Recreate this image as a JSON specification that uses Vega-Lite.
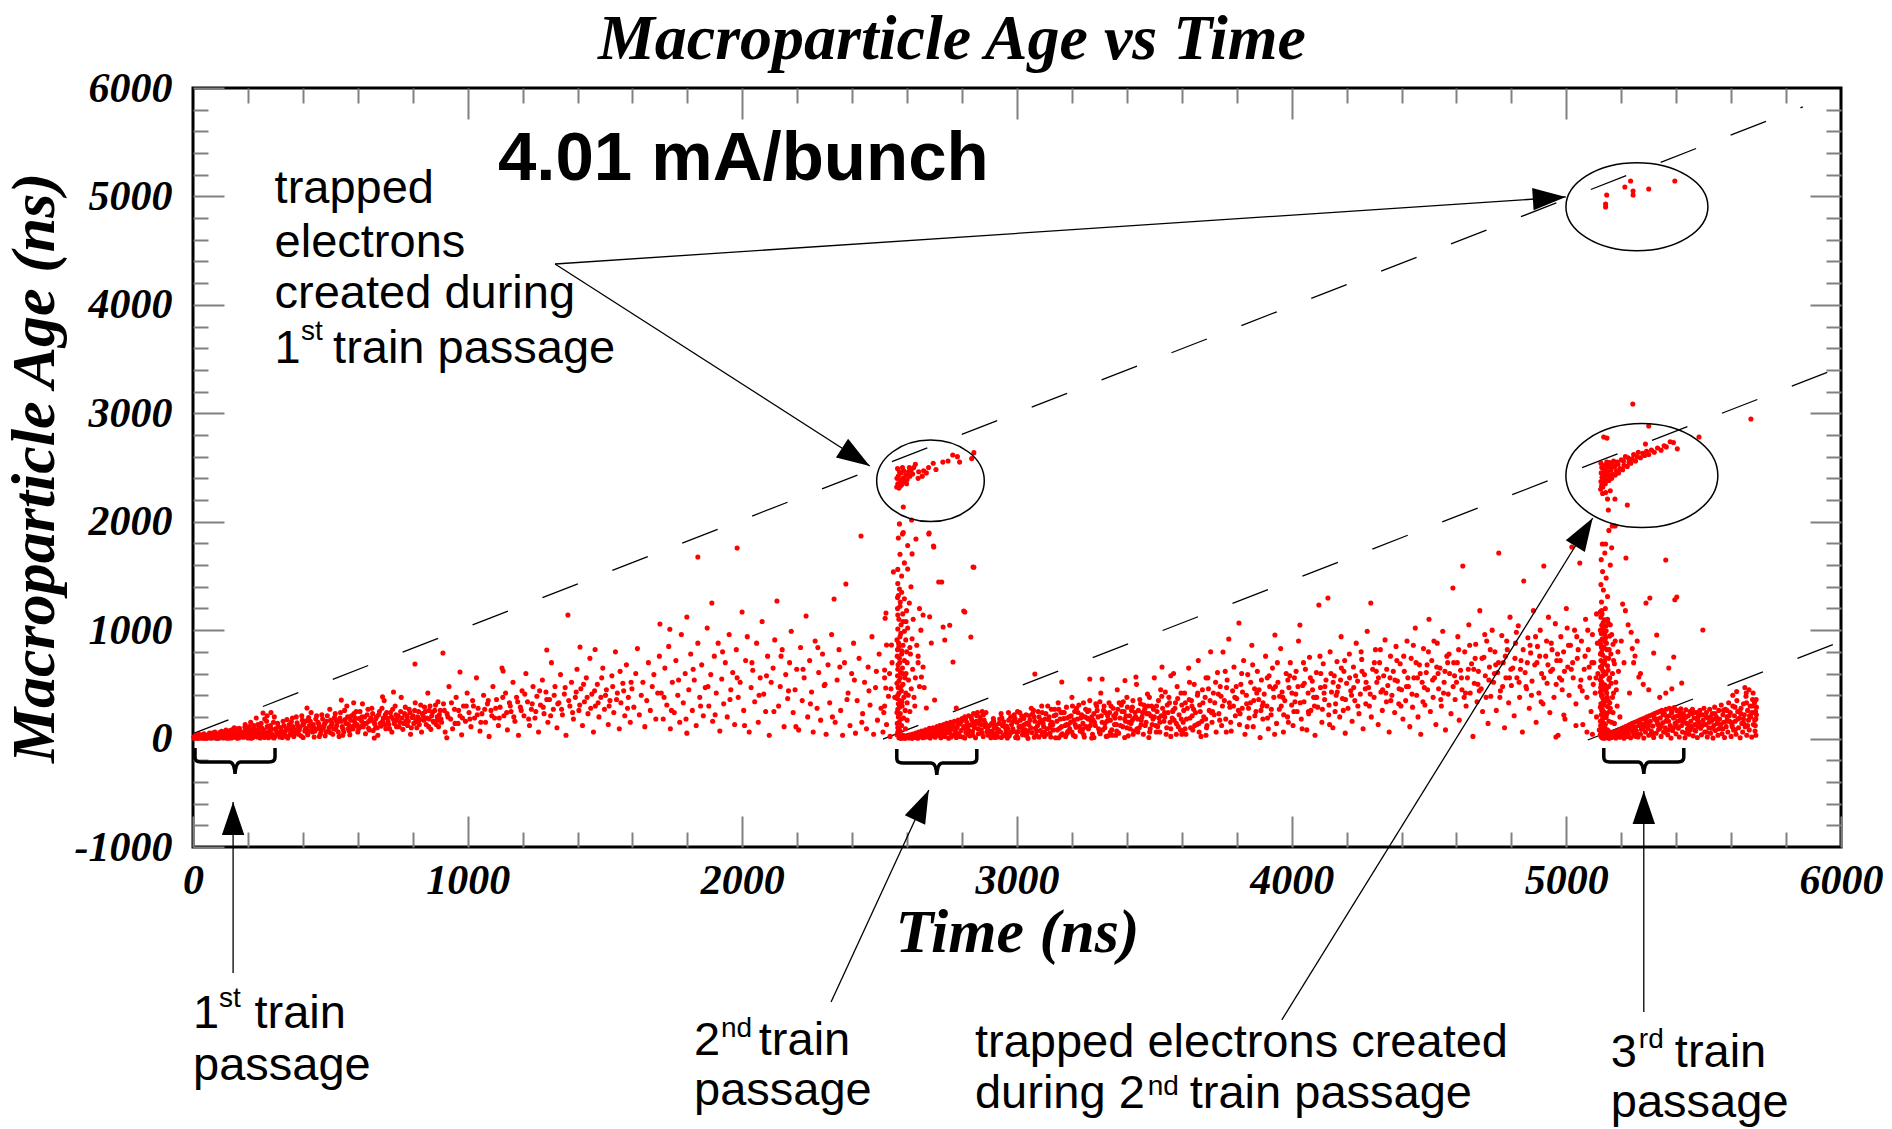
{
"$schema":"https://vega.github.io/schema/vega-lite/v6.json",
"width":1648,"height":759,"autosize":"none",
"padding":{"left":193,"top":88,"right":51,"bottom":282},
"background":"white",
"config":{"view":{"stroke":"#000","strokeWidth":3},
"axis":{"grid":false,"domain":false,"tickColor":"#808080","tickWidth":2,"labelFont":"Liberation Serif","labelFontSize":42,"labelFontWeight":"bold","labelFontStyle":"italic","labelColor":"#000","titleFont":"Liberation Serif","titleFontSize":62,"titleFontWeight":"bold","titleFontStyle":"italic","titleColor":"#000"}},
"resolve":{"axis":{"x":"independent","y":"independent"}},
"encoding":{
"x":{"field":"t","type":"quantitative","scale":{"domain":[0,6000],"nice":false,"zero":false},"axis":null},
"y":{"field":"a","type":"quantitative","scale":{"domain":[-1000,6000],"nice":false,"zero":false},"axis":null}},
"layer":[
{"data":{"values":[{"t":0,"a":45,"t2":5861,"a2":5825},{"t":2512,"a":-5,"t2":6000,"a2":3427},{"t":5078,"a":-13,"t2":6000,"a2":896}]},
"mark":{"type":"rule","color":"#000","strokeWidth":1.3,"strokeDash":[38,37]},
"encoding":{
"x":{"field":"t","type":"quantitative","scale":{"domain":[0,6000],"nice":false,"zero":false},"axis":{"orient":"bottom","values":[200,400,600,800,1200,1400,1600,1800,2200,2400,2600,2800,3200,3400,3600,3800,4200,4400,4600,4800,5200,5400,5600,5800],"tickSize":-15,"labels":false,"title":null}},
"y":{"field":"a","type":"quantitative","scale":{"domain":[-1000,6000],"nice":false,"zero":false},"axis":{"orient":"left","values":[-800,-600,-400,-200,200,400,600,800,1200,1400,1600,1800,2200,2400,2600,2800,3200,3400,3600,3800,4200,4400,4600,4800,5200,5400,5600,5800],"tickSize":-15,"labels":false,"title":null}},
"x2":{"field":"t2"},"y2":{"field":"a2"}}},
{"data":{"values":[
{"t":5,"a":3},{"t":12,"a":10},{"t":18,"a":2},{"t":25,"a":18},{"t":30,"a":6},{"t":36,"a":25},{"t":42,"a":12},{"t":48,"a":2},{"t":53,"a":30},{"t":58,"a":15},{"t":63,"a":40},{"t":68,"a":5},{"t":72,"a":22},{"t":78,"a":48},{"t":83,"a":10},{"t":88,"a":33},{"t":92,"a":3},{"t":97,"a":55},{"t":102,"a":20},{"t":107,"a":40},{"t":112,"a":8},{"t":117,"a":62},{"t":121,"a":28},{"t":126,"a":14},{"t":131,"a":45},{"t":135,"a":75},{"t":140,"a":5},{"t":144,"a":33},{"t":149,"a":58},{"t":153,"a":18},{"t":158,"a":90},{"t":162,"a":40},{"t":167,"a":8},{"t":171,"a":70},{"t":176,"a":25},{"t":180,"a":50},{"t":185,"a":12},{"t":189,"a":105},{"t":194,"a":38},{"t":198,"a":65},{"t":203,"a":20},{"t":207,"a":85},{"t":212,"a":4},{"t":216,"a":48},{"t":221,"a":120},{"t":225,"a":30},{"t":230,"a":70},{"t":234,"a":15},{"t":239,"a":95},{"t":243,"a":45},{"t":248,"a":140},{"t":252,"a":22},{"t":257,"a":60},{"t":261,"a":180},{"t":266,"a":35},{"t":270,"a":110},{"t":275,"a":8},{"t":279,"a":75},{"t":284,"a":240},{"t":288,"a":40},{"t":293,"a":150},{"t":297,"a":20},{"t":300,"a":90},{"t":255,"a":236},{"t":230,"a":190},{"t":190,"a":130},{"t":150,"a":100},{"t":120,"a":78},{"t":80,"a":60},{"t":60,"a":50},{"t":210,"a":150},{"t":270,"a":210},{"t":10,"a":30},{"t":20,"a":40},{"t":40,"a":45},{"t":55,"a":8},{"t":75,"a":35},{"t":95,"a":28},{"t":110,"a":50},{"t":130,"a":5},{"t":145,"a":60},{"t":160,"a":30},{"t":175,"a":55},{"t":200,"a":5},{"t":220,"a":62},{"t":240,"a":32},{"t":260,"a":10},{"t":280,"a":55},{"t":295,"a":5},
{"t":3,"a":15},{"t":8,"a":5},{"t":15,"a":22},{"t":22,"a":8},{"t":28,"a":35},{"t":33,"a":14},{"t":39,"a":3},{"t":45,"a":28},{"t":51,"a":18},{"t":57,"a":38},{"t":62,"a":9},{"t":66,"a":27},{"t":71,"a":52},{"t":77,"a":16},{"t":82,"a":40},{"t":86,"a":4},{"t":91,"a":24},{"t":99,"a":12},{"t":104,"a":66},{"t":109,"a":30},{"t":114,"a":18},{"t":119,"a":42},{"t":124,"a":3},{"t":128,"a":58},{"t":133,"a":22},{"t":138,"a":36},{"t":142,"a":80},{"t":147,"a":12},{"t":152,"a":46},{"t":156,"a":65},{"t":161,"a":3},{"t":165,"a":24},{"t":169,"a":95},{"t":173,"a":40},{"t":178,"a":14},{"t":183,"a":60},{"t":187,"a":30},{"t":192,"a":80},{"t":196,"a":18},{"t":201,"a":45},{"t":205,"a":110},{"t":209,"a":32},{"t":214,"a":70},{"t":218,"a":10},{"t":223,"a":88},{"t":227,"a":50},{"t":232,"a":28},{"t":236,"a":130},{"t":241,"a":65},{"t":245,"a":6},{"t":250,"a":100},{"t":254,"a":40},{"t":259,"a":78},{"t":263,"a":20},{"t":268,"a":160},{"t":272,"a":55},{"t":277,"a":30},{"t":282,"a":120},{"t":286,"a":85},{"t":291,"a":12},{"t":296,"a":200},
{"t":305,"a":40},{"t":310,"a":110},{"t":316,"a":15},{"t":322,"a":70},{"t":328,"a":160},{"t":333,"a":30},{"t":339,"a":95},{"t":345,"a":5},{"t":350,"a":130},{"t":356,"a":55},{"t":362,"a":190},{"t":367,"a":20},{"t":373,"a":80},{"t":379,"a":145},{"t":384,"a":40},{"t":390,"a":105},{"t":396,"a":210},{"t":401,"a":10},{"t":407,"a":70},{"t":413,"a":165},{"t":418,"a":35},{"t":424,"a":120},{"t":430,"a":240},{"t":435,"a":60},{"t":441,"a":15},{"t":447,"a":180},{"t":452,"a":90},{"t":458,"a":135},{"t":464,"a":45},{"t":469,"a":220},{"t":475,"a":100},{"t":481,"a":25},{"t":486,"a":160},{"t":492,"a":70},{"t":498,"a":270},{"t":503,"a":120},{"t":509,"a":40},{"t":515,"a":195},{"t":520,"a":85},{"t":526,"a":150},{"t":532,"a":20},{"t":537,"a":240},{"t":543,"a":110},{"t":549,"a":60},{"t":554,"a":175},{"t":560,"a":300},{"t":566,"a":130},{"t":571,"a":35},{"t":577,"a":210},{"t":583,"a":90},{"t":588,"a":155},{"t":594,"a":250},{"t":600,"a":60},{"t":605,"a":185},{"t":611,"a":110},{"t":617,"a":320},{"t":622,"a":140},{"t":628,"a":45},{"t":634,"a":220},{"t":639,"a":95},{"t":645,"a":170},{"t":651,"a":280},{"t":656,"a":75},{"t":662,"a":135},{"t":668,"a":200},{"t":673,"a":30},{"t":679,"a":250},{"t":685,"a":115},{"t":690,"a":160},{"t":696,"a":350},{"t":702,"a":90},{"t":707,"a":190},{"t":713,"a":130},{"t":719,"a":240},{"t":724,"a":60},{"t":730,"a":175},{"t":736,"a":300},{"t":741,"a":110},{"t":747,"a":210},{"t":753,"a":150},{"t":758,"a":380},{"t":764,"a":85},{"t":770,"a":230},{"t":775,"a":160},{"t":781,"a":120},{"t":787,"a":270},{"t":792,"a":40},{"t":798,"a":195},{"t":804,"a":140},{"t":809,"a":330},{"t":815,"a":100},{"t":821,"a":250},{"t":826,"a":175},{"t":832,"a":60},{"t":838,"a":210},{"t":843,"a":290},{"t":849,"a":130},{"t":855,"a":420},{"t":860,"a":180},{"t":866,"a":85},{"t":872,"a":240},{"t":877,"a":150},{"t":883,"a":310},{"t":889,"a":200},{"t":894,"a":110},{"t":900,"a":260},{"t":415,"a":282},{"t":808,"a":688},{"t":910,"a":789},{"t":730,"a":430},{"t":690,"a":385},{"t":660,"a":5},{"t":924,"a":8},{"t":585,"a":330},{"t":540,"a":355},
{"t":320,"a":50},{"t":340,"a":20},{"t":360,"a":90},{"t":380,"a":60},{"t":400,"a":130},{"t":420,"a":75},{"t":440,"a":100},{"t":460,"a":20},{"t":480,"a":140},{"t":500,"a":55},{"t":520,"a":170},{"t":545,"a":30},{"t":565,"a":90},{"t":590,"a":120},{"t":615,"a":200},{"t":640,"a":160},{"t":665,"a":100},{"t":700,"a":220},{"t":740,"a":170},{"t":780,"a":200},{"t":820,"a":150},{"t":860,"a":260},{"t":890,"a":170},
{"t":302,"a":75},{"t":308,"a":140},{"t":313,"a":55},{"t":319,"a":100},{"t":325,"a":10},{"t":331,"a":120},{"t":336,"a":65},{"t":342,"a":175},{"t":348,"a":85},{"t":353,"a":35},{"t":358,"a":155},{"t":364,"a":110},{"t":370,"a":50},{"t":376,"a":200},{"t":381,"a":120},{"t":387,"a":80},{"t":393,"a":25},{"t":398,"a":170},{"t":404,"a":140},{"t":410,"a":95},{"t":416,"a":50},{"t":421,"a":195},{"t":427,"a":160},{"t":433,"a":100},{"t":438,"a":130},{"t":444,"a":70},{"t":450,"a":210},{"t":455,"a":150},{"t":461,"a":110},{"t":467,"a":75},{"t":472,"a":180},{"t":478,"a":130},{"t":484,"a":60},{"t":489,"a":210},{"t":495,"a":100},{"t":501,"a":170},{"t":506,"a":140},{"t":512,"a":90},{"t":518,"a":230},{"t":523,"a":120},{"t":529,"a":60},{"t":535,"a":190},{"t":540,"a":160},{"t":546,"a":90},{"t":552,"a":260},{"t":557,"a":140},{"t":563,"a":200},{"t":569,"a":70},{"t":574,"a":170},{"t":580,"a":110},{"t":586,"a":230},{"t":591,"a":190},{"t":597,"a":130},{"t":603,"a":90},{"t":608,"a":250},{"t":614,"a":160},{"t":620,"a":110},{"t":625,"a":200},{"t":631,"a":140},{"t":637,"a":270},{"t":642,"a":80},{"t":648,"a":190},
{"t":654,"a":230},{"t":659,"a":150},{"t":665,"a":180},{"t":671,"a":100},{"t":676,"a":220},{"t":682,"a":140},{"t":688,"a":280},{"t":693,"a":190},{"t":699,"a":130},{"t":705,"a":240},{"t":710,"a":160},{"t":716,"a":90},{"t":722,"a":200},{"t":727,"a":270},{"t":733,"a":140},{"t":739,"a":220},{"t":744,"a":180},{"t":750,"a":110},{"t":756,"a":250},{"t":761,"a":190},{"t":767,"a":140},{"t":773,"a":290},{"t":778,"a":210},{"t":784,"a":160},{"t":790,"a":240},{"t":795,"a":100},{"t":801,"a":210},{"t":807,"a":260},{"t":812,"a":170},{"t":818,"a":200},{"t":824,"a":130},{"t":829,"a":310},{"t":835,"a":230},{"t":841,"a":170},{"t":846,"a":250},{"t":852,"a":190},{"t":858,"a":110},{"t":863,"a":300},{"t":869,"a":210},{"t":875,"a":160},{"t":880,"a":260},{"t":886,"a":130},{"t":892,"a":340},{"t":897,"a":220},{"t":903,"a":180},{"t":915,"a":260},{"t":928,"a":200},{"t":941,"a":330},{"t":954,"a":140},{"t":967,"a":260},{"t":981,"a":190},{"t":995,"a":300},
{"t":1008,"a":180},{"t":1021,"a":300},{"t":1035,"a":220},{"t":1048,"a":150},{"t":1062,"a":270},{"t":1075,"a":350},{"t":1088,"a":210},{"t":1102,"a":280},{"t":1115,"a":190},{"t":1128,"a":380},{"t":1142,"a":240},{"t":1155,"a":300},{"t":1168,"a":200},{"t":1182,"a":340},{"t":1195,"a":260},{"t":1208,"a":410},{"t":1222,"a":180},{"t":1235,"a":320},{"t":1248,"a":250},{"t":1262,"a":440},{"t":1275,"a":290},{"t":1288,"a":360},{"t":1302,"a":210},{"t":1315,"a":400},{"t":1328,"a":320},{"t":1342,"a":270},{"t":1355,"a":470},{"t":1368,"a":350},{"t":1382,"a":240},{"t":1395,"a":430},{"t":1408,"a":310},{"t":1422,"a":500},{"t":1435,"a":380},{"t":1448,"a":280},{"t":1462,"a":440},{"t":1475,"a":330},{"t":1488,"a":560},{"t":1502,"a":400},{"t":1515,"a":300},{"t":1528,"a":480},{"t":1542,"a":360},{"t":1555,"a":620},{"t":1568,"a":440},{"t":1582,"a":280},{"t":1595,"a":520},
{"t":905,"a":150},{"t":912,"a":320},{"t":918,"a":60},{"t":925,"a":230},{"t":932,"a":480},{"t":938,"a":180},{"t":945,"a":90},{"t":952,"a":270},{"t":958,"a":380},{"t":965,"a":140},{"t":972,"a":210},{"t":978,"a":35},{"t":985,"a":300},{"t":992,"a":160},{"t":998,"a":420},{"t":1005,"a":240},{"t":1012,"a":110},{"t":1018,"a":350},{"t":1025,"a":190},{"t":1032,"a":560},{"t":1038,"a":280},{"t":1045,"a":70},{"t":1052,"a":230},{"t":1058,"a":400},{"t":1065,"a":150},{"t":1072,"a":320},{"t":1078,"a":20},{"t":1085,"a":260},{"t":1092,"a":480},{"t":1098,"a":190},{"t":1105,"a":360},{"t":1112,"a":120},{"t":1118,"a":290},{"t":1125,"a":650},{"t":1132,"a":210},{"t":1138,"a":420},{"t":1145,"a":80},{"t":1152,"a":330},{"t":1158,"a":250},{"t":1165,"a":520},{"t":1172,"a":160},{"t":1178,"a":380},{"t":1185,"a":30},{"t":1192,"a":290},{"t":1198,"a":440},{"t":1205,"a":210},{"t":1212,"a":600},{"t":1218,"a":340},{"t":1225,"a":120},{"t":1232,"a":270},{"t":1238,"a":480},{"t":1245,"a":190},{"t":1252,"a":390},{"t":1258,"a":60},{"t":1265,"a":310},{"t":1272,"a":540},{"t":1278,"a":230},{"t":1285,"a":430},{"t":1292,"a":150},{"t":1298,"a":360},{"t":1305,"a":700},{"t":1312,"a":270},{"t":1318,"a":480},{"t":1325,"a":100},{"t":1332,"a":330},{"t":1338,"a":590},{"t":1345,"a":220},{"t":1352,"a":410},{"t":1358,"a":30},{"t":1365,"a":1140},{"t":1372,"a":300},{"t":1378,"a":520},{"t":1385,"a":180},{"t":1392,"a":380},{"t":1398,"a":640},{"t":1405,"a":260},{"t":1412,"a":460},{"t":1418,"a":120},{"t":1425,"a":340},{"t":1432,"a":560},{"t":1438,"a":230},{"t":1445,"a":740},{"t":1452,"a":410},{"t":1458,"a":60},{"t":1465,"a":300},{"t":1472,"a":500},{"t":1478,"a":200},{"t":1485,"a":380},{"t":1492,"a":650},{"t":1498,"a":270},{"t":1505,"a":450},{"t":1512,"a":130},{"t":1518,"a":350},{"t":1525,"a":580},{"t":1532,"a":240},{"t":1538,"a":800},{"t":1545,"a":420},{"t":1552,"a":90},{"t":1558,"a":330},{"t":1565,"a":510},{"t":1572,"a":210},{"t":1578,"a":680},{"t":1585,"a":380},{"t":1592,"a":150},{"t":1598,"a":460},{"t":1605,"a":290},{"t":1612,"a":600},{"t":1618,"a":830},{"t":1625,"a":220},{"t":1632,"a":400},{"t":1638,"a":520},{"t":1645,"a":110},{"t":1652,"a":350},{"t":1658,"a":700},{"t":1665,"a":260},{"t":1672,"a":480},{"t":1678,"a":590},{"t":1685,"a":180},{"t":1692,"a":420},{"t":1698,"a":760},{"t":1288,"a":817},{"t":1409,"a":845},{"t":1464,"a":822},{"t":1700,"a":1057},{"t":1736,"a":1008},{"t":1798,"a":1121},{"t":1838,"a":1674},{"t":1129,"a":623},{"t":972,"a":614},
{"t":1705,"a":420},{"t":1712,"a":180},{"t":1718,"a":650},{"t":1725,"a":310},{"t":1732,"a":850},{"t":1738,"a":90},{"t":1745,"a":520},{"t":1752,"a":240},{"t":1758,"a":720},{"t":1765,"a":400},{"t":1772,"a":150},{"t":1778,"a":960},{"t":1785,"a":330},{"t":1792,"a":600},{"t":1798,"a":50},{"t":1805,"a":450},{"t":1812,"a":780},{"t":1818,"a":260},{"t":1825,"a":540},{"t":1832,"a":120},{"t":1838,"a":880},{"t":1845,"a":380},{"t":1852,"a":680},{"t":1858,"a":210},{"t":1865,"a":470},{"t":1872,"a":1020},{"t":1878,"a":300},{"t":1885,"a":590},{"t":1889,"a":1250},{"t":1892,"a":160},{"t":1898,"a":760},{"t":1905,"a":420},{"t":1912,"a":880},{"t":1918,"a":70},{"t":1925,"a":550},{"t":1932,"a":320},{"t":1938,"a":700},{"t":1945,"a":200},{"t":1952,"a":960},{"t":1958,"a":450},{"t":1965,"a":610},{"t":1972,"a":130},{"t":1978,"a":820},{"t":1981,"a":1758},{"t":1985,"a":380},{"t":1992,"a":520},{"t":1999,"a":1167},{"t":2005,"a":260},{"t":2012,"a":720},{"t":2018,"a":940},{"t":2025,"a":60},{"t":2032,"a":470},{"t":2038,"a":630},{"t":2045,"a":340},{"t":2052,"a":880},{"t":2058,"a":150},{"t":2065,"a":560},{"t":2072,"a":1080},{"t":2078,"a":410},{"t":2085,"a":250},{"t":2092,"a":760},{"t":2098,"a":30},{"t":2105,"a":520},{"t":2112,"a":650},{"t":2118,"a":910},{"t":2126,"a":1269},{"t":2132,"a":300},{"t":2138,"a":480},{"t":2145,"a":820},{"t":2152,"a":110},{"t":2158,"a":590},{"t":2165,"a":370},{"t":2172,"a":700},{"t":2178,"a":990},{"t":2185,"a":240},{"t":2192,"a":450},{"t":2198,"a":640},{"t":2205,"a":80},{"t":2212,"a":840},{"t":2218,"a":350},{"t":2225,"a":560},{"t":2232,"a":1130},{"t":2238,"a":200},{"t":2245,"a":720},{"t":2252,"a":430},{"t":2258,"a":60},{"t":2265,"a":900},{"t":2272,"a":280},{"t":2278,"a":610},{"t":2285,"a":170},{"t":2292,"a":780},{"t":2298,"a":490},{"t":2305,"a":40},{"t":2312,"a":680},{"t":2318,"a":330},{"t":2325,"a":960},{"t":2334,"a":1287},{"t":2338,"a":150},{"t":2345,"a":540},{"t":2352,"a":820},{"t":2358,"a":260},{"t":2365,"a":30},{"t":2372,"a":700},{"t":2377,"a":1426},{"t":2385,"a":420},{"t":2392,"a":120},{"t":2398,"a":600},{"t":2405,"a":880},{"t":2412,"a":50},{"t":2418,"a":350},{"t":2425,"a":740},{"t":2432,"a":1868},{"t":2438,"a":230},{"t":2445,"a":520},{"t":2452,"a":90},{"t":2458,"a":660},{"t":2465,"a":310},{"t":2472,"a":940},{"t":2478,"a":40},{"t":2485,"a":470},{"t":2492,"a":170},{"t":2498,"a":780},{"t":2505,"a":280},{"t":2512,"a":60},{"t":2518,"a":560},{"t":2525,"a":130},{"t":2532,"a":390},{"t":2538,"a":20},{"t":2545,"a":700},
{"t":1715,"a":380},{"t":1742,"a":260},{"t":1768,"a":540},{"t":1795,"a":180},{"t":1821,"a":640},{"t":1848,"a":300},{"t":1875,"a":480},{"t":1901,"a":220},{"t":1928,"a":800},{"t":1955,"a":360},{"t":1981,"a":560},{"t":2008,"a":120},{"t":2035,"a":700},{"t":2061,"a":400},{"t":2088,"a":580},{"t":2115,"a":250},{"t":2141,"a":760},{"t":2168,"a":440},{"t":2195,"a":110},{"t":2221,"a":640},{"t":2248,"a":320},{"t":2275,"a":840},{"t":2301,"a":500},{"t":2328,"a":200},{"t":2355,"a":660},{"t":2381,"a":360},{"t":2408,"a":540},{"t":2435,"a":150},{"t":2461,"a":440},{"t":2488,"a":620},{"t":2515,"a":240},{"t":2541,"a":460},
{"t":2566,"a":1430},{"t":2572,"a":1380},{"t":2568,"a":1320},{"t":2580,"a":1350},{"t":2575,"a":1260},{"t":2590,"a":1290},{"t":2565,"a":1200},{"t":2584,"a":1150},{"t":2570,"a":1100},{"t":2598,"a":1180},{"t":2578,"a":1050},{"t":2566,"a":1010},{"t":2590,"a":990},{"t":2574,"a":940},{"t":2602,"a":1020},{"t":2569,"a":880},{"t":2585,"a":860},{"t":2595,"a":910},{"t":2565,"a":820},{"t":2580,"a":780},{"t":2610,"a":840},{"t":2572,"a":740},{"t":2590,"a":720},{"t":2567,"a":680},{"t":2583,"a":650},{"t":2600,"a":700},{"t":2576,"a":610},{"t":2565,"a":580},{"t":2592,"a":560},{"t":2570,"a":530},{"t":2585,"a":500},{"t":2605,"a":540},{"t":2567,"a":470},{"t":2579,"a":440},{"t":2595,"a":420},{"t":2566,"a":400},{"t":2588,"a":380},{"t":2574,"a":350},{"t":2568,"a":320},{"t":2600,"a":330},{"t":2582,"a":300},{"t":2566,"a":270},{"t":2593,"a":260},{"t":2575,"a":230},{"t":2568,"a":200},{"t":2587,"a":190},{"t":2600,"a":170},{"t":2571,"a":150},{"t":2580,"a":120},{"t":2566,"a":100},{"t":2594,"a":90},{"t":2575,"a":70},{"t":2568,"a":45},{"t":2585,"a":30},{"t":2578,"a":15},{"t":2570,"a":8},{"t":2590,"a":5},{"t":2566,"a":60},{"t":2610,"a":250},{"t":2615,"a":460},{"t":2620,"a":640},{"t":2612,"a":780},{"t":2625,"a":380},{"t":2618,"a":920},{"t":2630,"a":560},{"t":2622,"a":1100},{"t":2628,"a":300},{"t":2640,"a":700},{"t":2635,"a":860},{"t":2645,"a":480},{"t":2608,"a":1250},{"t":2614,"a":1400},{"t":2580,"a":1500},{"t":2566,"a":1560},{"t":2590,"a":1620},{"t":2574,"a":1700},{"t":2602,"a":1780},{"t":2568,"a":1850},{"t":2586,"a":1900},{"t":2572,"a":1980},{"t":2616,"a":2016},{"t":2586,"a":2136},{"t":2583,"a":1887},{"t":2632,"a":1840},{"t":2679,"a":1887},{"t":2696,"a":1776},{"t":2618,"a":1703},{"t":2602,"a":1564},{"t":2550,"a":1537},{"t":2715,"a":1444},{"t":2843,"a":1580},{"t":2523,"a":1158},{"t":2520,"a":1110},{"t":2525,"a":863},{"t":2543,"a":863},{"t":2518,"a":632},{"t":2536,"a":600},{"t":2522,"a":466},{"t":2518,"a":300},{"t":2555,"a":380},
{"t":2563,"a":35},{"t":2571,"a":85},{"t":2564,"a":140},{"t":2577,"a":180},{"t":2563,"a":240},{"t":2572,"a":290},{"t":2581,"a":340},{"t":2564,"a":370},{"t":2570,"a":420},{"t":2578,"a":480},{"t":2563,"a":510},{"t":2575,"a":560},{"t":2584,"a":600},{"t":2566,"a":640},{"t":2573,"a":700},{"t":2564,"a":760},{"t":2580,"a":810},{"t":2570,"a":850},{"t":2563,"a":910},{"t":2577,"a":970},{"t":2585,"a":1080},{"t":2566,"a":1140},{"t":2574,"a":1220},{"t":2565,"a":1300},{"t":2596,"a":600},{"t":2598,"a":800},{"t":2604,"a":400},{"t":2596,"a":1080},
{"t":2658,"a":1140},{"t":2682,"a":1124},{"t":2731,"a":1029},{"t":2755,"a":1045},{"t":2810,"a":1167},{"t":2737,"a":909},{"t":2688,"a":881},{"t":2832,"a":937},{"t":2767,"a":706},{"t":2658,"a":660},{"t":2652,"a":568},{"t":2700,"a":356},{"t":2670,"a":282},{"t":2779,"a":282},{"t":2680,"a":1896},{"t":2697,"a":1767},{"t":2726,"a":1444},{"t":2840,"a":1582},{"t":2806,"a":1176},{"t":2650,"a":1000},{"t":2640,"a":760},{"t":2662,"a":470},{"t":2645,"a":1200},
{"t":2562,"a":2320},{"t":2566,"a":2350},{"t":2570,"a":2310},{"t":2575,"a":2380},{"t":2568,"a":2420},{"t":2580,"a":2340},{"t":2585,"a":2400},{"t":2572,"a":2460},{"t":2590,"a":2370},{"t":2565,"a":2490},{"t":2578,"a":2450},{"t":2595,"a":2430},{"t":2600,"a":2390},{"t":2583,"a":2500},{"t":2605,"a":2460},{"t":2610,"a":2420},{"t":2598,"a":2350},{"t":2615,"a":2480},{"t":2620,"a":2440},{"t":2575,"a":2330},{"t":2588,"a":2470},{"t":2563,"a":2400},{"t":2608,"a":2500},{"t":2624,"a":2499},{"t":2642,"a":2461},{"t":2655,"a":2420},{"t":2660,"a":2470},{"t":2678,"a":2500},{"t":2695,"a":2539},{"t":2705,"a":2482},{"t":2730,"a":2550},{"t":2749,"a":2560},{"t":2766,"a":2615},{"t":2783,"a":2600},{"t":2791,"a":2550},{"t":2835,"a":2582},{"t":2843,"a":2637},{"t":2630,"a":2530},{"t":2640,"a":2400},{"t":2670,"a":2450},
{"t":2575,"a":5},{"t":2578,"a":2},{"t":2582,"a":12},{"t":2586,"a":8},{"t":2590,"a":18},{"t":2593,"a":3},{"t":2597,"a":25},{"t":2600,"a":12},{"t":2604,"a":30},{"t":2607,"a":6},{"t":2611,"a":35},{"t":2614,"a":20},{"t":2618,"a":2},{"t":2621,"a":42},{"t":2625,"a":25},{"t":2628,"a":10},{"t":2632,"a":50},{"t":2635,"a":32},{"t":2639,"a":4},{"t":2642,"a":60},{"t":2646,"a":20},{"t":2649,"a":45},{"t":2653,"a":70},{"t":2656,"a":8},{"t":2660,"a":55},{"t":2663,"a":30},{"t":2667,"a":80},{"t":2670,"a":15},{"t":2674,"a":62},{"t":2677,"a":40},{"t":2681,"a":95},{"t":2684,"a":5},{"t":2688,"a":75},{"t":2691,"a":28},{"t":2695,"a":100},{"t":2698,"a":50},{"t":2702,"a":12},{"t":2705,"a":85},{"t":2709,"a":110},{"t":2712,"a":35},{"t":2716,"a":65},{"t":2719,"a":120},{"t":2723,"a":8},{"t":2726,"a":90},{"t":2730,"a":45},{"t":2733,"a":130},{"t":2737,"a":20},{"t":2740,"a":70},{"t":2744,"a":140},{"t":2747,"a":100},{"t":2751,"a":4},{"t":2754,"a":55},{"t":2758,"a":150},{"t":2761,"a":85},{"t":2765,"a":30},{"t":2768,"a":120},{"t":2772,"a":160},{"t":2775,"a":60},{"t":2779,"a":10},{"t":2782,"a":105},{"t":2786,"a":170},{"t":2789,"a":40},{"t":2793,"a":135},{"t":2796,"a":75},{"t":2800,"a":185},{"t":2803,"a":15},{"t":2807,"a":110},{"t":2810,"a":200},{"t":2814,"a":55},{"t":2817,"a":150},{"t":2821,"a":90},{"t":2824,"a":210},{"t":2828,"a":25},{"t":2831,"a":125},{"t":2835,"a":175},{"t":2838,"a":65},{"t":2842,"a":230},{"t":2845,"a":100},{"t":2849,"a":8},{"t":2852,"a":160},{"t":2856,"a":240},{"t":2859,"a":45},{"t":2863,"a":135},{"t":2866,"a":200},{"t":2870,"a":80},{"t":2873,"a":250},{"t":2877,"a":20},{"t":2880,"a":170},{"t":2884,"a":110},{"t":2887,"a":240},{"t":2890,"a":60},{"t":2640,"a":30},{"t":2700,"a":30},{"t":2760,"a":15},{"t":2820,"a":40},{"t":2690,"a":60},{"t":2750,"a":85},{"t":2810,"a":5},{"t":2870,"a":130},{"t":2620,"a":15},{"t":2660,"a":10},{"t":2730,"a":100},{"t":2780,"a":50},{"t":2840,"a":150},
{"t":2580,"a":25},{"t":2596,"a":10},{"t":2609,"a":22},{"t":2623,"a":33},{"t":2634,"a":15},{"t":2644,"a":40},{"t":2651,"a":25},{"t":2662,"a":68},{"t":2669,"a":45},{"t":2679,"a":22},{"t":2686,"a":88},{"t":2693,"a":60},{"t":2703,"a":40},{"t":2711,"a":95},{"t":2718,"a":25},{"t":2725,"a":115},{"t":2732,"a":75},{"t":2741,"a":50},{"t":2748,"a":125},{"t":2756,"a":105},{"t":2763,"a":140},{"t":2771,"a":35},{"t":2777,"a":90},{"t":2785,"a":140},{"t":2792,"a":20},{"t":2798,"a":160},{"t":2806,"a":95},{"t":2813,"a":180},{"t":2819,"a":120},{"t":2826,"a":70},{"t":2833,"a":200},{"t":2839,"a":30},{"t":2846,"a":130},{"t":2853,"a":210},{"t":2858,"a":90},{"t":2865,"a":170},{"t":2872,"a":50},{"t":2878,"a":220},{"t":2885,"a":140},
{"t":2895,"a":30},{"t":2900,"a":120},{"t":2905,"a":8},{"t":2910,"a":70},{"t":2915,"a":160},{"t":2920,"a":40},{"t":2925,"a":95},{"t":2930,"a":15},{"t":2935,"a":140},{"t":2940,"a":60},{"t":2945,"a":190},{"t":2950,"a":25},{"t":2955,"a":110},{"t":2960,"a":75},{"t":2965,"a":5},{"t":2970,"a":170},{"t":2975,"a":50},{"t":2980,"a":130},{"t":2985,"a":90},{"t":2990,"a":220},{"t":2995,"a":10},{"t":3000,"a":150},{"t":3005,"a":65},{"t":3010,"a":240},{"t":3015,"a":115},{"t":3020,"a":35},{"t":3025,"a":185},{"t":3030,"a":80},{"t":3035,"a":140},{"t":3040,"a":2},{"t":3045,"a":210},{"t":3050,"a":100},{"t":3055,"a":55},{"t":3060,"a":260},{"t":3065,"a":160},{"t":3070,"a":30},{"t":3075,"a":120},{"t":3080,"a":200},{"t":3085,"a":75},{"t":3090,"a":300},{"t":3095,"a":140},{"t":3100,"a":20},{"t":3105,"a":230},{"t":3110,"a":90},{"t":3115,"a":175},{"t":3120,"a":50},{"t":3125,"a":270},{"t":3130,"a":130},{"t":3135,"a":210},{"t":3140,"a":8},{"t":3145,"a":160},{"t":3150,"a":330},{"t":3155,"a":95},{"t":3160,"a":240},{"t":3165,"a":45},{"t":3170,"a":185},{"t":3175,"a":120},{"t":3180,"a":290},{"t":3185,"a":65},{"t":3190,"a":200},{"t":3195,"a":150},{"t":3200,"a":380},{"t":3205,"a":30},{"t":3210,"a":250},{"t":3215,"a":105},{"t":3220,"a":180},{"t":3225,"a":310},{"t":3230,"a":70},{"t":3235,"a":220},{"t":3240,"a":140},{"t":3245,"a":15},{"t":3250,"a":270},{"t":3255,"a":190},{"t":3260,"a":90},{"t":3265,"a":350},{"t":3270,"a":160},{"t":3275,"a":40},{"t":3280,"a":230},{"t":3285,"a":120},{"t":3290,"a":300},{"t":3295,"a":200},{"t":3300,"a":60},{"t":3305,"a":420},{"t":3310,"a":150},{"t":3315,"a":260},{"t":3320,"a":100},{"t":3325,"a":20},{"t":3330,"a":210},{"t":3335,"a":330},{"t":3340,"a":170},{"t":3345,"a":80},{"t":3350,"a":280},{"t":3355,"a":130},{"t":3360,"a":230},{"t":3365,"a":450},{"t":3370,"a":50},{"t":3375,"a":190},{"t":3380,"a":310},{"t":3385,"a":110},{"t":3390,"a":250},{"t":3395,"a":160},{"t":3400,"a":380},{"t":3405,"a":25},{"t":3410,"a":210},{"t":3415,"a":140},{"t":3420,"a":290},{"t":3425,"a":70},{"t":3430,"a":240},{"t":3435,"a":500},{"t":3440,"a":180},{"t":3445,"a":100},{"t":3450,"a":320},{"t":3455,"a":200},{"t":3460,"a":40},{"t":3465,"a":270},{"t":3470,"a":150},{"t":3475,"a":410},{"t":3480,"a":230},{"t":3485,"a":90},{"t":3490,"a":300},{"t":3495,"a":180},{"t":3500,"a":560},{"t":3505,"a":120},{"t":3510,"a":250},{"t":3515,"a":350},{"t":3520,"a":60},{"t":3525,"a":210},{"t":3530,"a":280},{"t":3535,"a":160},{"t":3540,"a":430},{"t":3545,"a":100},{"t":3550,"a":240},{"t":3555,"a":330},{"t":3560,"a":20},{"t":3565,"a":190},{"t":3570,"a":600},{"t":3575,"a":280},{"t":3580,"a":140},{"t":3585,"a":370},{"t":3590,"a":220},{"t":3595,"a":80},{"t":3600,"a":310},{"t":3065,"a":595},{"t":3163,"a":522},{"t":3265,"a":549},{"t":3310,"a":549},{"t":3393,"a":535},{"t":3433,"a":568},{"t":3528,"a":660},{"t":3560,"a":580},{"t":2920,"a":10},{"t":2960,"a":40},{"t":3000,"a":20},{"t":3040,"a":70},{"t":3080,"a":15},{"t":3120,"a":100},{"t":3160,"a":30},{"t":3200,"a":60},{"t":3240,"a":90},{"t":3280,"a":10},{"t":3320,"a":140},{"t":3360,"a":30},{"t":3400,"a":100},{"t":3440,"a":60},{"t":3480,"a":10},{"t":3520,"a":150},{"t":3560,"a":90},{"t":3600,"a":40},{"t":3020,"a":90},{"t":3100,"a":60},{"t":3180,"a":130},{"t":3260,"a":180},{"t":3340,"a":60},{"t":3420,"a":170},{"t":3500,"a":200},{"t":3580,"a":40},
{"t":2898,"a":70},{"t":2908,"a":140},{"t":2917,"a":100},{"t":2927,"a":50},{"t":2937,"a":180},{"t":2947,"a":120},{"t":2957,"a":40},{"t":2967,"a":90},{"t":2977,"a":200},{"t":2987,"a":160},{"t":2997,"a":60},{"t":3007,"a":110},{"t":3017,"a":210},{"t":3027,"a":130},{"t":3037,"a":45},{"t":3047,"a":170},{"t":3057,"a":230},{"t":3067,"a":95},{"t":3077,"a":250},{"t":3087,"a":170},{"t":3097,"a":110},{"t":3107,"a":40},{"t":3117,"a":200},{"t":3127,"a":150},{"t":3137,"a":270},{"t":3147,"a":80},{"t":3157,"a":180},{"t":3167,"a":240},{"t":3177,"a":20},{"t":3187,"a":130},{"t":3197,"a":210},{"t":3207,"a":170},{"t":3217,"a":280},{"t":3227,"a":110},{"t":3237,"a":60},{"t":3247,"a":200},{"t":3257,"a":250},{"t":3267,"a":120},{"t":3277,"a":170},{"t":3287,"a":320},{"t":3297,"a":90},{"t":3307,"a":210},{"t":3317,"a":300},{"t":3327,"a":160},{"t":3337,"a":240},{"t":3347,"a":30},{"t":3357,"a":190},{"t":3367,"a":270},{"t":3377,"a":120},{"t":3387,"a":340},{"t":3397,"a":210},{"t":3407,"a":150},{"t":3417,"a":260},{"t":3427,"a":190},{"t":3437,"a":90},{"t":3447,"a":360},{"t":3457,"a":240},{"t":3467,"a":120},{"t":3477,"a":300},{"t":3487,"a":210},{"t":3497,"a":270},{"t":3507,"a":60},{"t":3517,"a":190},{"t":3527,"a":390},{"t":3537,"a":240},{"t":3547,"a":310},{"t":3557,"a":150},{"t":3567,"a":250},{"t":3577,"a":330},{"t":3587,"a":110},{"t":3597,"a":420},{"t":3607,"a":260},{"t":3617,"a":180},{"t":3627,"a":360},{"t":3637,"a":300},{"t":3647,"a":120},{"t":3657,"a":400},{"t":3667,"a":250},{"t":3677,"a":330},{"t":3687,"a":180},{"t":3697,"a":460},{"t":2912,"a":20},{"t":2943,"a":10},{"t":2972,"a":25},{"t":3003,"a":5},{"t":3032,"a":30},{"t":3063,"a":12},{"t":3092,"a":40},{"t":3123,"a":15},{"t":3152,"a":8},{"t":3183,"a":50},{"t":3212,"a":20},{"t":3243,"a":35},{"t":3272,"a":5},{"t":3303,"a":45},{"t":3332,"a":25},{"t":3363,"a":70},{"t":3392,"a":10},{"t":3423,"a":40},{"t":3452,"a":130},{"t":3483,"a":60},{"t":3512,"a":110},{"t":3543,"a":40},{"t":3572,"a":170},{"t":3603,"a":70},{"t":3632,"a":100},{"t":3663,"a":60},{"t":3692,"a":120},
{"t":2893,"a":95},{"t":2903,"a":45},{"t":2914,"a":185},{"t":2922,"a":125},{"t":2933,"a":80},{"t":2942,"a":230},{"t":2952,"a":155},{"t":2962,"a":115},{"t":2969,"a":240},{"t":2981,"a":60},{"t":2993,"a":185},{"t":3002,"a":250},{"t":3012,"a":170},{"t":3023,"a":60},{"t":3033,"a":220},{"t":3043,"a":130},{"t":3052,"a":280},{"t":3062,"a":200},{"t":3072,"a":70},{"t":3082,"a":150},{"t":3092,"a":240},{"t":3102,"a":180},{"t":3112,"a":300},{"t":3122,"a":130},{"t":3132,"a":80},{"t":3142,"a":220},{"t":3152,"a":270},{"t":3162,"a":110},{"t":3172,"a":240},{"t":3182,"a":190},{"t":3192,"a":90},{"t":3202,"a":300},{"t":3212,"a":130},{"t":3222,"a":240},{"t":3232,"a":190},{"t":3242,"a":330},{"t":3252,"a":110},{"t":3262,"a":260},{"t":3272,"a":200},{"t":3282,"a":150},{"t":3292,"a":260},{"t":3302,"a":340},{"t":3312,"a":80},{"t":3322,"a":240},{"t":3332,"a":170},{"t":3342,"a":300},{"t":3352,"a":210},{"t":3362,"a":130},{"t":3372,"a":330},{"t":3382,"a":250},{"t":3392,"a":180},{"t":3402,"a":290},{"t":3412,"a":90},{"t":3422,"a":350},{"t":3432,"a":200},{"t":3442,"a":260},{"t":3452,"a":170},{"t":3462,"a":310},{"t":3472,"a":230},{"t":3482,"a":380},{"t":3492,"a":130},
{"t":3605,"a":150},{"t":3610,"a":420},{"t":3615,"a":40},{"t":3620,"a":280},{"t":3625,"a":650},{"t":3630,"a":190},{"t":3635,"a":350},{"t":3640,"a":80},{"t":3645,"a":500},{"t":3650,"a":240},{"t":3655,"a":130},{"t":3660,"a":720},{"t":3665,"a":310},{"t":3670,"a":20},{"t":3675,"a":450},{"t":3680,"a":200},{"t":3685,"a":380},{"t":3690,"a":100},{"t":3695,"a":560},{"t":3700,"a":260},{"t":3705,"a":800},{"t":3710,"a":150},{"t":3715,"a":420},{"t":3720,"a":330},{"t":3725,"a":60},{"t":3730,"a":610},{"t":3735,"a":230},{"t":3740,"a":480},{"t":3745,"a":120},{"t":3750,"a":798},{"t":3755,"a":350},{"t":3760,"a":180},{"t":3765,"a":540},{"t":3771,"a":918},{"t":3775,"a":290},{"t":3780,"a":70},{"t":3785,"a":440},{"t":3790,"a":660},{"t":3795,"a":210},{"t":3800,"a":370},{"t":3808,"a":1066},{"t":3810,"a":130},{"t":3815,"a":500},{"t":3820,"a":280},{"t":3825,"a":720},{"t":3830,"a":40},{"t":3835,"a":400},{"t":3840,"a":590},{"t":3845,"a":190},{"t":3850,"a":330},{"t":3855,"a":860},{"t":3860,"a":110},{"t":3865,"a":460},{"t":3870,"a":250},{"t":3875,"a":620},{"t":3880,"a":360},{"t":3885,"a":10},{"t":3890,"a":540},{"t":3895,"a":180},{"t":3900,"a":410},{"t":3905,"a":760},{"t":3910,"a":300},{"t":3915,"a":90},{"t":3920,"a":480},{"t":3925,"a":220},{"t":3930,"a":650},{"t":3935,"a":380},{"t":3939,"a":955},{"t":3945,"a":140},{"t":3950,"a":520},{"t":3955,"a":270},{"t":3960,"a":830},{"t":3965,"a":430},{"t":3970,"a":60},{"t":3975,"a":350},{"t":3980,"a":600},{"t":3985,"a":200},{"t":3990,"a":470},{"t":3995,"a":700},{"t":4000,"a":310},{"t":4005,"a":120},{"t":4010,"a":560},{"t":4015,"a":410},{"t":4020,"a":250},{"t":4025,"a":900},{"t":4030,"a":1047},{"t":4035,"a":180},{"t":4040,"a":490},{"t":4045,"a":340},{"t":4050,"a":640},{"t":4055,"a":80},{"t":4060,"a":420},{"t":4065,"a":750},{"t":4070,"a":260},{"t":4075,"a":530},{"t":4080,"a":380},{"t":4085,"a":30},{"t":4090,"a":610},{"t":4095,"a":290},{"t":4099,"a":1232},{"t":4105,"a":470},{"t":4110,"a":150},{"t":4115,"a":690},{"t":4120,"a":360},{"t":4125,"a":540},{"t":4132,"a":1296},{"t":4135,"a":220},{"t":4140,"a":800},{"t":4145,"a":430},{"t":4150,"a":100},{"t":4155,"a":580},{"t":4160,"a":320},{"t":4165,"a":710},{"t":4170,"a":480},{"t":4175,"a":200},{"t":4180,"a":940},{"t":4185,"a":370},{"t":4190,"a":620},{"t":4195,"a":50},{"t":4200,"a":510},{"t":4205,"a":280},{"t":4210,"a":780},{"t":4215,"a":440},{"t":4220,"a":160},{"t":4225,"a":660},{"t":4230,"a":350},{"t":4235,"a":880},{"t":4240,"a":530},{"t":4245,"a":230},{"t":4250,"a":410},{"t":4255,"a":730},{"t":4260,"a":90},{"t":4265,"a":590},{"t":4270,"a":320},{"t":4275,"a":990},{"t":4280,"a":470},{"t":4288,"a":1250},{"t":4290,"a":200},{"t":4295,"a":640},{"t":4300,"a":380},{"t":4305,"a":820},{"t":4310,"a":520},{"t":4315,"a":130},{"t":4320,"a":700},{"t":4325,"a":430},{"t":4330,"a":260},{"t":4335,"a":580},{"t":4340,"a":910},{"t":4345,"a":340},{"t":4350,"a":490},{"t":4355,"a":60},{"t":4360,"a":760},{"t":4365,"a":400},{"t":4370,"a":620},{"t":4375,"a":240},{"t":4380,"a":850},{"t":4385,"a":530},{"t":4390,"a":320},{"t":4395,"a":690},{"t":4400,"a":450},{"t":3612,"a":90},{"t":3638,"a":210},{"t":3662,"a":140},{"t":3688,"a":30},{"t":3712,"a":250},{"t":3738,"a":170},{"t":3762,"a":60},{"t":3788,"a":300},{"t":3812,"a":230},{"t":3838,"a":110},{"t":3862,"a":350},{"t":3888,"a":260},{"t":3912,"a":190},{"t":3938,"a":40},{"t":3962,"a":300},{"t":3988,"a":150},{"t":4012,"a":340},{"t":4038,"a":90},{"t":4062,"a":230},{"t":4088,"a":380},{"t":4112,"a":270},{"t":4138,"a":130},{"t":4162,"a":400},{"t":4188,"a":260},
{"t":3703,"a":350},{"t":3718,"a":220},{"t":3733,"a":410},{"t":3748,"a":300},{"t":3763,"a":470},{"t":3778,"a":150},{"t":3793,"a":380},{"t":3806,"a":260},{"t":3821,"a":430},{"t":3836,"a":320},{"t":3851,"a":520},{"t":3866,"a":210},{"t":3881,"a":450},{"t":3896,"a":330},{"t":3911,"a":560},{"t":3926,"a":270},{"t":3941,"a":480},{"t":3956,"a":390},{"t":3971,"a":220},{"t":3986,"a":540},{"t":4001,"a":420},{"t":4016,"a":620},{"t":4031,"a":330},{"t":4046,"a":510},{"t":4061,"a":250},{"t":4076,"a":450},{"t":4091,"a":380},{"t":4106,"a":600},{"t":4121,"a":480},{"t":4136,"a":310},{"t":4151,"a":520},{"t":4166,"a":430},{"t":4181,"a":650},{"t":4196,"a":360},{"t":4211,"a":560},{"t":4226,"a":470},{"t":4241,"a":300},{"t":4256,"a":620},{"t":4271,"a":520},{"t":4286,"a":410},{"t":4301,"a":700},{"t":4316,"a":560},{"t":4331,"a":450},{"t":4346,"a":640},{"t":4361,"a":350},{"t":4376,"a":540},{"t":4391,"a":460},
{"t":3508,"a":300},{"t":3523,"a":450},{"t":3538,"a":200},{"t":3553,"a":380},{"t":3568,"a":260},{"t":3583,"a":480},{"t":3598,"a":180},{"t":3613,"a":330},{"t":3628,"a":520},{"t":3643,"a":270},{"t":3658,"a":420},{"t":3673,"a":160},{"t":3688,"a":560},{"t":3708,"a":240},{"t":3723,"a":520},{"t":3743,"a":390},{"t":3758,"a":620},{"t":3773,"a":330},{"t":3798,"a":480},{"t":3818,"a":600},{"t":3843,"a":280},{"t":3858,"a":680},{"t":3873,"a":420},{"t":3893,"a":300},{"t":3918,"a":580},{"t":3933,"a":460},{"t":3948,"a":700},{"t":3968,"a":380},{"t":3993,"a":580},{"t":4008,"a":250},{"t":4023,"a":480},{"t":4043,"a":700},{"t":4068,"a":560},{"t":4083,"a":300},{"t":4103,"a":760},{"t":4118,"a":420},{"t":4143,"a":600},{"t":4158,"a":250},{"t":4178,"a":540},{"t":4193,"a":720},{"t":4218,"a":400},{"t":4233,"a":580},{"t":4253,"a":800},{"t":4268,"a":460},{"t":4283,"a":300},{"t":4308,"a":620},{"t":4323,"a":820},{"t":4343,"a":420},{"t":4358,"a":560},{"t":4383,"a":720},{"t":4398,"a":300},{"t":4418,"a":480},{"t":4443,"a":860},{"t":4458,"a":560},{"t":4478,"a":340},{"t":4493,"a":680},{"t":4518,"a":900},{"t":4533,"a":600},{"t":4553,"a":420},{"t":4568,"a":700},{"t":4593,"a":580},{"t":4608,"a":820},{"t":4628,"a":380},{"t":4643,"a":640},{"t":4668,"a":740},{"t":4683,"a":440},{"t":4703,"a":960},{"t":4718,"a":540},{"t":4743,"a":680},{"t":4758,"a":380},{"t":4778,"a":760},{"t":4793,"a":560},{"t":4818,"a":980},{"t":4833,"a":640},{"t":4853,"a":480},{"t":4868,"a":860},{"t":4893,"a":700},{"t":4908,"a":340},{"t":4928,"a":900},{"t":4943,"a":620},{"t":4968,"a":780},{"t":4983,"a":540},{"t":5003,"a":1020},{"t":5018,"a":640},{"t":5043,"a":820},{"t":5058,"a":440},{"t":5078,"a":1000},{"t":5093,"a":700},{"t":5108,"a":560},
{"t":4405,"a":180},{"t":4410,"a":620},{"t":4415,"a":350},{"t":4420,"a":900},{"t":4425,"a":480},{"t":4430,"a":110},{"t":4435,"a":740},{"t":4440,"a":290},{"t":4445,"a":560},{"t":4450,"a":1020},{"t":4455,"a":400},{"t":4460,"a":200},{"t":4465,"a":680},{"t":4470,"a":40},{"t":4475,"a":520},{"t":4480,"a":830},{"t":4485,"a":310},{"t":4490,"a":610},{"t":4495,"a":450},{"t":4500,"a":1100},{"t":4505,"a":250},{"t":4510,"a":720},{"t":4515,"a":380},{"t":4520,"a":560},{"t":4525,"a":130},{"t":4530,"a":880},{"t":4535,"a":460},{"t":4540,"a":650},{"t":4545,"a":300},{"t":4550,"a":990},{"t":4555,"a":520},{"t":4560,"a":80},{"t":4565,"a":760},{"t":4570,"a":410},{"t":4575,"a":600},{"t":4580,"a":230},{"t":4587,"a":1388},{"t":4590,"a":700},{"t":4595,"a":360},{"t":4600,"a":520},{"t":4605,"a":940},{"t":4610,"a":170},{"t":4615,"a":630},{"t":4620,"a":450},{"t":4623,"a":1591},{"t":4630,"a":800},{"t":4635,"a":300},{"t":4640,"a":560},{"t":4645,"a":1050},{"t":4650,"a":420},{"t":4655,"a":690},{"t":4660,"a":20},{"t":4665,"a":510},{"t":4670,"a":870},{"t":4675,"a":340},{"t":4680,"a":620},{"t":4685,"a":1180},{"t":4690,"a":460},{"t":4695,"a":250},{"t":4700,"a":750},{"t":4705,"a":580},{"t":4710,"a":900},{"t":4715,"a":140},{"t":4720,"a":660},{"t":4725,"a":390},{"t":4730,"a":1000},{"t":4735,"a":520},{"t":4740,"a":800},{"t":4745,"a":260},{"t":4750,"a":610},{"t":4754,"a":1711},{"t":4760,"a":440},{"t":4765,"a":950},{"t":4770,"a":700},{"t":4775,"a":100},{"t":4780,"a":560},{"t":4785,"a":820},{"t":4790,"a":330},{"t":4795,"a":1120},{"t":4800,"a":490},{"t":4805,"a":650},{"t":4810,"a":210},{"t":4815,"a":880},{"t":4820,"a":560},{"t":4825,"a":1040},{"t":4830,"a":380},{"t":4835,"a":720},{"t":4840,"a":60},{"t":4845,"a":1453},{"t":4850,"a":610},{"t":4855,"a":460},{"t":4860,"a":930},{"t":4865,"a":280},{"t":4870,"a":790},{"t":4875,"a":530},{"t":4880,"a":1180},{"t":4885,"a":680},{"t":4890,"a":150},{"t":4895,"a":850},{"t":4900,"a":420},{"t":4905,"a":1000},{"t":4910,"a":600},{"t":4915,"a":320},{"t":4918,"a":1591},{"t":4925,"a":760},{"t":4930,"a":510},{"t":4935,"a":1120},{"t":4940,"a":240},{"t":4945,"a":880},{"t":4950,"a":640},{"t":4955,"a":380},{"t":4960,"a":1060},{"t":4965,"a":720},{"t":4970,"a":30},{"t":4975,"a":560},{"t":4980,"a":940},{"t":4985,"a":450},{"t":4990,"a":800},{"t":4995,"a":180},{"t":5000,"a":1200},{"t":5005,"a":660},{"t":5010,"a":400},{"t":5015,"a":860},{"t":5020,"a":1767},{"t":5025,"a":560},{"t":5030,"a":1000},{"t":5035,"a":320},{"t":5040,"a":740},{"t":5049,"a":1619},{"t":5050,"a":480},{"t":5055,"a":900},{"t":5060,"a":130},{"t":5065,"a":640},{"t":5070,"a":1100},{"t":5075,"a":380},{"t":5080,"a":820},{"t":5085,"a":560},{"t":5090,"a":250},{"t":5095,"a":960},{"t":5100,"a":700},{"t":5105,"a":420},{"t":5110,"a":1150},{"t":5115,"a":600},{"t":5120,"a":80},{"t":5035,"a":120},{"t":5075,"a":60},{"t":5110,"a":200},{"t":5095,"a":40},{"t":4962,"a":14},{"t":4991,"a":217},
{"t":4408,"a":760},{"t":4423,"a":560},{"t":4438,"a":410},{"t":4453,"a":700},{"t":4468,"a":600},{"t":4483,"a":470},{"t":4498,"a":800},{"t":4513,"a":540},{"t":4528,"a":660},{"t":4543,"a":360},{"t":4558,"a":620},{"t":4573,"a":780},{"t":4588,"a":480},{"t":4603,"a":700},{"t":4618,"a":560},{"t":4633,"a":420},{"t":4648,"a":860},{"t":4663,"a":640},{"t":4678,"a":500},{"t":4693,"a":740},{"t":4708,"a":380},{"t":4723,"a":820},{"t":4738,"a":600},{"t":4753,"a":700},{"t":4768,"a":480},{"t":4783,"a":900},{"t":4798,"a":640},{"t":4813,"a":740},{"t":4828,"a":520},{"t":4843,"a":820},{"t":4858,"a":700},{"t":4873,"a":400},{"t":4888,"a":940},{"t":4903,"a":760},{"t":4918,"a":560},{"t":4933,"a":680},{"t":4948,"a":820},{"t":4963,"a":500},{"t":4978,"a":720},{"t":4993,"a":620},{"t":5008,"a":860},{"t":5023,"a":700},{"t":5038,"a":940},{"t":5053,"a":540},{"t":5068,"a":760},{"t":5083,"a":660},{"t":5098,"a":500},{"t":5113,"a":880},
{"t":5126,"a":20},{"t":5132,"a":45},{"t":5128,"a":70},{"t":5140,"a":95},{"t":5125,"a":120},{"t":5135,"a":145},{"t":5130,"a":170},{"t":5145,"a":195},{"t":5127,"a":220},{"t":5138,"a":245},{"t":5131,"a":270},{"t":5150,"a":295},{"t":5126,"a":320},{"t":5142,"a":345},{"t":5133,"a":370},{"t":5128,"a":395},{"t":5147,"a":420},{"t":5136,"a":445},{"t":5125,"a":470},{"t":5140,"a":495},{"t":5130,"a":520},{"t":5155,"a":545},{"t":5127,"a":570},{"t":5144,"a":595},{"t":5134,"a":620},{"t":5129,"a":645},{"t":5150,"a":670},{"t":5138,"a":695},{"t":5126,"a":720},{"t":5143,"a":745},{"t":5132,"a":770},{"t":5128,"a":795},{"t":5148,"a":820},{"t":5137,"a":845},{"t":5125,"a":870},{"t":5141,"a":895},{"t":5131,"a":920},{"t":5158,"a":945},{"t":5127,"a":970},{"t":5145,"a":995},{"t":5135,"a":1020},{"t":5129,"a":1045},{"t":5152,"a":1070},{"t":5139,"a":1095},{"t":5126,"a":1120},{"t":5160,"a":60},{"t":5165,"a":150},{"t":5170,"a":240},{"t":5158,"a":330},{"t":5172,"a":420},{"t":5163,"a":510},{"t":5168,"a":600},{"t":5175,"a":690},{"t":5162,"a":780},{"t":5170,"a":870},{"t":5165,"a":960},{"t":5160,"a":1050},{"t":5175,"a":140},{"t":5168,"a":380},{"t":5180,"a":520},{"t":5172,"a":720},{"t":5178,"a":900},{"t":5185,"a":300},{"t":5190,"a":620},{"t":5182,"a":450},{"t":5188,"a":800},{"t":5195,"a":200},{"t":5130,"a":1150},{"t":5142,"a":1200},{"t":5128,"a":1260},{"t":5150,"a":1310},{"t":5135,"a":1370},{"t":5126,"a":1420},{"t":5145,"a":1480},{"t":5132,"a":1540},{"t":5160,"a":1600},{"t":5127,"a":1650},{"t":5140,"a":1711},{"t":5131,"a":1794},{"t":5167,"a":1960},{"t":5178,"a":1960},{"t":5155,"a":1920},{"t":5143,"a":1794},{"t":5165,"a":1760},{"t":5130,"a":10},{"t":5145,"a":30},{"t":5135,"a":60},{"t":5150,"a":80},{"t":5128,"a":110},{"t":5142,"a":130},{"t":5155,"a":160},{"t":5133,"a":190},{"t":5148,"a":230},{"t":5129,"a":260},{"t":5160,"a":280},{"t":5137,"a":310},{"t":5152,"a":350},{"t":5131,"a":400},{"t":5146,"a":460},{"t":5127,"a":500},{"t":5158,"a":560},{"t":5139,"a":610},{"t":5132,"a":680},{"t":5154,"a":740},{"t":5128,"a":840},{"t":5143,"a":930},{"t":5135,"a":990},{"t":5150,"a":1100},{"t":5129,"a":1180},
{"t":5124,"a":40},{"t":5133,"a":90},{"t":5124,"a":160},{"t":5137,"a":210},{"t":5124,"a":290},{"t":5133,"a":330},{"t":5124,"a":430},{"t":5138,"a":470},{"t":5124,"a":540},{"t":5133,"a":580},{"t":5124,"a":660},{"t":5139,"a":710},{"t":5124,"a":780},{"t":5133,"a":830},{"t":5124,"a":900},{"t":5140,"a":960},{"t":5124,"a":1000},{"t":5134,"a":1070},{"t":5124,"a":1170},{"t":5146,"a":880},{"t":5152,"a":630},{"t":5149,"a":380},{"t":5145,"a":1040},{"t":5156,"a":820},{"t":5154,"a":480},{"t":5157,"a":250},
{"t":5217,"a":1665},{"t":5362,"a":1647},{"t":5329,"a":955},{"t":5391,"a":752},{"t":5373,"a":651},{"t":5420,"a":512},{"t":5402,"a":1306},{"t":5395,"a":1280},{"t":5304,"a":1296},{"t":5290,"a":1250},{"t":5497,"a":1001},{"t":5318,"a":789},{"t":5362,"a":420},{"t":5384,"a":460},{"t":5340,"a":380},{"t":5264,"a":568},{"t":5250,"a":761},{"t":5240,"a":830},{"t":5258,"a":900},{"t":5270,"a":600},{"t":5225,"a":1050},{"t":5215,"a":1180},{"t":5236,"a":980},{"t":5205,"a":1240},{"t":5245,"a":700},{"t":5280,"a":500},{"t":5300,"a":450},{"t":5230,"a":420},{"t":5210,"a":700},{"t":5200,"a":900},
{"t":5125,"a":2300},{"t":5128,"a":2330},{"t":5126,"a":2370},{"t":5130,"a":2410},{"t":5127,"a":2450},{"t":5129,"a":2500},{"t":5126,"a":2540},{"t":5133,"a":2320},{"t":5135,"a":2360},{"t":5138,"a":2400},{"t":5134,"a":2440},{"t":5137,"a":2480},{"t":5140,"a":2520},{"t":5142,"a":2350},{"t":5145,"a":2390},{"t":5148,"a":2430},{"t":5143,"a":2470},{"t":5150,"a":2510},{"t":5147,"a":2550},{"t":5155,"a":2380},{"t":5158,"a":2420},{"t":5152,"a":2460},{"t":5160,"a":2500},{"t":5157,"a":2545},{"t":5165,"a":2400},{"t":5168,"a":2440},{"t":5163,"a":2480},{"t":5170,"a":2520},{"t":5172,"a":2560},{"t":5178,"a":2430},{"t":5182,"a":2470},{"t":5176,"a":2510},{"t":5185,"a":2550},{"t":5190,"a":2450},{"t":5195,"a":2490},{"t":5188,"a":2530},{"t":5200,"a":2570},{"t":5205,"a":2480},{"t":5210,"a":2520},{"t":5208,"a":2560},{"t":5215,"a":2600},{"t":5222,"a":2510},{"t":5228,"a":2550},{"t":5225,"a":2590},{"t":5235,"a":2540},{"t":5240,"a":2580},{"t":5245,"a":2620},{"t":5252,"a":2560},{"t":5258,"a":2600},{"t":5262,"a":2640},{"t":5270,"a":2590},{"t":5278,"a":2630},{"t":5285,"a":2610},{"t":5292,"a":2650},{"t":5300,"a":2620},{"t":5310,"a":2660},{"t":5320,"a":2640},{"t":5332,"a":2680},{"t":5345,"a":2660},{"t":5356,"a":2700},{"t":5364,"a":2690},{"t":5148,"a":2771},{"t":5300,"a":2883},{"t":5288,"a":2717},{"t":5378,"a":2738},{"t":5390,"a":2730},{"t":5404,"a":2672},{"t":5483,"a":2781},{"t":5242,"a":3086},{"t":5150,"a":2209},{"t":5177,"a":2209},{"t":5222,"a":2154},{"t":5153,"a":2108},{"t":5672,"a":2947},{"t":5143,"a":2270},{"t":5160,"a":2285},{"t":5132,"a":2260},{"t":5136,"a":2781},
{"t":5147,"a":5013},{"t":5143,"a":4930},{"t":5143,"a":4902},{"t":5213,"a":5087},{"t":5234,"a":5142},{"t":5243,"a":5050},{"t":5243,"a":5013},{"t":5300,"a":5068},{"t":5395,"a":5142},
{"t":5132,"a":5},{"t":5135,"a":15},{"t":5138,"a":3},{"t":5141,"a":20},{"t":5144,"a":8},{"t":5147,"a":30},{"t":5150,"a":12},{"t":5153,"a":40},{"t":5156,"a":2},{"t":5159,"a":25},{"t":5162,"a":48},{"t":5165,"a":10},{"t":5168,"a":35},{"t":5171,"a":55},{"t":5174,"a":18},{"t":5177,"a":62},{"t":5180,"a":5},{"t":5183,"a":42},{"t":5186,"a":70},{"t":5189,"a":28},{"t":5192,"a":80},{"t":5195,"a":12},{"t":5198,"a":55},{"t":5201,"a":90},{"t":5204,"a":35},{"t":5207,"a":100},{"t":5210,"a":4},{"t":5213,"a":65},{"t":5216,"a":110},{"t":5219,"a":45},{"t":5222,"a":20},{"t":5225,"a":120},{"t":5228,"a":80},{"t":5231,"a":130},{"t":5234,"a":8},{"t":5237,"a":95},{"t":5240,"a":140},{"t":5243,"a":55},{"t":5246,"a":25},{"t":5249,"a":150},{"t":5252,"a":105},{"t":5255,"a":70},{"t":5258,"a":160},{"t":5261,"a":15},{"t":5264,"a":120},{"t":5267,"a":170},{"t":5270,"a":40},{"t":5273,"a":85},{"t":5276,"a":180},{"t":5279,"a":130},{"t":5282,"a":5},{"t":5285,"a":190},{"t":5288,"a":60},{"t":5291,"a":145},{"t":5294,"a":200},{"t":5297,"a":95},{"t":5300,"a":30},{"t":5303,"a":210},{"t":5306,"a":160},{"t":5309,"a":70},{"t":5312,"a":220},{"t":5315,"a":115},{"t":5318,"a":10},{"t":5321,"a":230},{"t":5324,"a":175},{"t":5327,"a":50},{"t":5330,"a":240},{"t":5333,"a":130},{"t":5336,"a":85},{"t":5339,"a":250},{"t":5342,"a":190},{"t":5345,"a":20},{"t":5348,"a":260},{"t":5351,"a":145},{"t":5354,"a":60},{"t":5357,"a":230},{"t":5360,"a":100},{"t":5363,"a":270},{"t":5366,"a":200},{"t":5369,"a":35},{"t":5372,"a":160},{"t":5375,"a":280},{"t":5378,"a":120},{"t":5381,"a":5},{"t":5384,"a":240},{"t":5387,"a":75},{"t":5390,"a":190},{"t":5393,"a":285},{"t":5396,"a":140},{"t":5399,"a":45},{"t":5402,"a":260},{"t":5405,"a":210},{"t":5408,"a":95},{"t":5411,"a":15},{"t":5414,"a":170},{"t":5417,"a":275},{"t":5420,"a":120},{"t":5423,"a":60},{"t":5426,"a":230},{"t":5429,"a":180},{"t":5432,"a":8},{"t":5435,"a":265},{"t":5438,"a":140},{"t":5441,"a":90},{"t":5444,"a":210},{"t":5447,"a":40},{"t":5450,"a":250},{"t":5453,"a":160},{"t":5456,"a":110},{"t":5459,"a":270},{"t":5462,"a":25},{"t":5465,"a":190},{"t":5468,"a":130},{"t":5471,"a":70},{"t":5474,"a":240},{"t":5477,"a":10},{"t":5480,"a":200},{"t":5483,"a":150},{"t":5486,"a":260},{"t":5489,"a":95},{"t":5492,"a":35},{"t":5495,"a":220},{"t":5498,"a":170},{"t":5501,"a":280},{"t":5504,"a":60},{"t":5507,"a":130},{"t":5510,"a":240},{"t":5513,"a":15},{"t":5516,"a":190},{"t":5519,"a":100},{"t":5522,"a":270},{"t":5525,"a":50},{"t":5528,"a":160},{"t":5531,"a":230},{"t":5534,"a":5},{"t":5537,"a":120},{"t":5540,"a":290},{"t":5543,"a":75},{"t":5546,"a":200},{"t":5549,"a":140},{"t":5552,"a":30},{"t":5555,"a":260},{"t":5558,"a":180},{"t":5561,"a":95},{"t":5564,"a":310},{"t":5567,"a":45},{"t":5570,"a":220},{"t":5573,"a":150},{"t":5576,"a":10},{"t":5579,"a":270},{"t":5582,"a":110},{"t":5585,"a":200},{"t":5588,"a":60},{"t":5591,"a":330},{"t":5594,"a":160},{"t":5597,"a":240},{"t":5600,"a":20},{"t":5603,"a":130},{"t":5606,"a":300},{"t":5609,"a":80},{"t":5612,"a":210},{"t":5615,"a":160},{"t":5618,"a":40},{"t":5621,"a":350},{"t":5624,"a":250},{"t":5627,"a":100},{"t":5630,"a":190},{"t":5633,"a":8},{"t":5636,"a":280},{"t":5639,"a":140},{"t":5642,"a":60},{"t":5645,"a":320},{"t":5648,"a":220},{"t":5651,"a":110},{"t":5654,"a":390},{"t":5657,"a":30},{"t":5660,"a":260},{"t":5663,"a":170},{"t":5666,"a":80},{"t":5669,"a":300},{"t":5672,"a":200},{"t":5675,"a":15},{"t":5678,"a":360},{"t":5681,"a":130},{"t":5684,"a":240},{"t":5687,"a":70},{"t":5690,"a":180},{"t":5692,"a":290},{"t":5690,"a":30},{"t":5688,"a":120},{"t":5692,"a":220},{"t":5685,"a":330},{"t":5680,"a":420},{"t":5665,"a":450},{"t":5606,"a":400},{"t":5620,"a":433},{"t":5650,"a":470},{"t":5655,"a":420},
{"t":5205,"a":60},{"t":5240,"a":100},{"t":5270,"a":130},{"t":5300,"a":150},{"t":5330,"a":180},{"t":5360,"a":60},{"t":5390,"a":100},{"t":5420,"a":200},{"t":5450,"a":80},{"t":5480,"a":110},{"t":5510,"a":60},{"t":5540,"a":180},{"t":5570,"a":90},{"t":5600,"a":150},{"t":5630,"a":250},{"t":5660,"a":120},{"t":5225,"a":50},{"t":5255,"a":20},{"t":5285,"a":110},{"t":5315,"a":40},{"t":5345,"a":120},{"t":5375,"a":210},{"t":5405,"a":160},{"t":5435,"a":50},{"t":5465,"a":240},{"t":5495,"a":120},{"t":5525,"a":200},{"t":5555,"a":90},{"t":5585,"a":260},{"t":5615,"a":80},{"t":5645,"a":180},{"t":5675,"a":240},
{"t":5137,"a":25},{"t":5152,"a":22},{"t":5166,"a":50},{"t":5179,"a":35},{"t":5191,"a":60},{"t":5203,"a":20},{"t":5214,"a":85},{"t":5226,"a":35},{"t":5236,"a":110},{"t":5247,"a":75},{"t":5257,"a":40},{"t":5268,"a":140},{"t":5278,"a":95},{"t":5289,"a":170},{"t":5299,"a":120},{"t":5310,"a":60},{"t":5320,"a":190},{"t":5331,"a":150},{"t":5341,"a":95},{"t":5352,"a":220},{"t":5362,"a":160},{"t":5373,"a":80},{"t":5383,"a":250},{"t":5394,"a":200},{"t":5404,"a":110},{"t":5415,"a":240},{"t":5425,"a":150},{"t":5436,"a":200},{"t":5446,"a":120},{"t":5457,"a":230},{"t":5467,"a":80},{"t":5478,"a":170},{"t":5488,"a":220},{"t":5499,"a":130},{"t":5509,"a":200},{"t":5520,"a":150},{"t":5530,"a":95},{"t":5541,"a":230},{"t":5551,"a":170},{"t":5562,"a":130},{"t":5572,"a":260},{"t":5583,"a":160},{"t":5593,"a":210},{"t":5604,"a":110},{"t":5614,"a":290},{"t":5625,"a":180},{"t":5635,"a":230},{"t":5646,"a":140},{"t":5656,"a":330},{"t":5667,"a":210},{"t":5677,"a":300},{"t":5686,"a":170},{"t":5691,"a":360},{"t":5689,"a":250}
]},
"mark":{"type":"circle","size":26,"color":"#ff0000","opacity":1},
"encoding":{
"x":{"field":"t","type":"quantitative","scale":{"domain":[0,6000],"nice":false,"zero":false},"axis":{"orient":"bottom","values":[0,1000,2000,3000,4000,5000,6000],"tickSize":-31,"labelPadding":44,"labelExpr":"''+datum.value","labelFlush":false,"labelOverlap":false,"title":"Time (ns)","titleX":824,"titleY":104,"titleAlign":"center","titleBaseline":"alphabetic"}},
"y":{"field":"a","type":"quantitative","scale":{"domain":[-1000,6000],"nice":false,"zero":false},"axis":{"orient":"left","values":[-1000,0,1000,2000,3000,4000,5000,6000],"tickSize":-31,"labelPadding":52,"labelExpr":"''+datum.value","labelFlush":false,"labelOverlap":false,"title":"Macroparticle Age (ns)","titleAngle":270,"titleX":-140,"titleY":379.5,"titleAlign":"center","titleBaseline":"alphabetic"}}}},
{"data":{"values":[{"t":146,"a":-2162,"t2":146,"a2":-585},{"t":2323,"a":-2430,"t2":2679,"a2":-474},{"t":3964,"a":-2595,"t2":5096,"a2":2034},{"t":5282,"a":-2522,"t2":5282,"a2":-484},{"t":1318,"a":4377,"t2":4998,"a2":4995},{"t":1318,"a":4377,"t2":2464,"a2":2514}]},
"mark":{"type":"rule","color":"#000","strokeWidth":1.3},
"encoding":{
"x":{"field":"t","type":"quantitative","scale":{"domain":[0,6000],"nice":false,"zero":false},"axis":{"orient":"top","values":[1000,2000,3000,4000,5000],"tickSize":-31,"labels":false,"title":null}},
"y":{"field":"a","type":"quantitative","scale":{"domain":[-1000,6000],"nice":false,"zero":false},"axis":{"orient":"right","values":[0,1000,2000,3000,4000,5000],"tickSize":-31,"labels":false,"title":null}},
"x2":{"field":"t2"},"y2":{"field":"a2"}}},
{"data":{"values":[{"t":153,"a":-216},{"t":2708,"a":-225},{"t":5282,"a":-216}]},
"mark":{"type":"point","shape":"M-1,-0.35L-1,-0.12Q-1,0,-0.85,0L-0.14,0Q-0.02,0,0,0.3Q0.02,0,0.14,0L0.85,0Q1,0,1,-0.12L1,-0.35","size":6400,"filled":false,"color":"#000","strokeWidth":3.5,"opacity":1},
"encoding":{
"x":{"field":"t","type":"quantitative","scale":{"domain":[0,6000],"nice":false,"zero":false},"axis":{"orient":"top","values":[200,400,600,800,1200,1400,1600,1800,2200,2400,2600,2800,3200,3400,3600,3800,4200,4400,4600,4800,5200,5400,5600,5800],"tickSize":-15,"labels":false,"title":null}},
"y":{"field":"a","type":"quantitative","scale":{"domain":[-1000,6000],"nice":false,"zero":false},"axis":{"orient":"right","values":[-800,-600,-400,-200,200,400,600,800,1200,1400,1600,1800,2200,2400,2600,2800,3200,3400,3600,3800,4200,4400,4600,4800,5200,5400,5600,5800],"tickSize":-15,"labels":false,"title":null}}}},
{"data":{"values":[{"t":2685,"a":2377}]},
"mark":{"type":"point","shape":"M-1,0C-1,-0.419,-0.552,-0.758,0,-0.758C0.552,-0.758,1,-0.419,1,0C1,0.419,0.552,0.758,0,0.758C-0.552,0.758,-1,0.419,-1,0Z","size":11578,"filled":false,"color":"#000","strokeWidth":1.5,"opacity":1}},
{"data":{"values":[{"t":5257,"a":4905}]},
"mark":{"type":"point","shape":"M-1,0C-1,-0.342,-0.552,-0.62,0,-0.62C0.552,-0.62,1,-0.342,1,0C1,0.342,0.552,0.62,0,0.62C-0.552,0.62,-1,0.342,-1,0Z","size":20164,"filled":false,"color":"#000","strokeWidth":1.5,"opacity":1}},
{"data":{"values":[{"t":5275,"a":2426}]},
"mark":{"type":"point","shape":"M-1,0C-1,-0.378,-0.552,-0.684,0,-0.684C0.552,-0.684,1,-0.378,1,0C1,0.378,0.552,0.684,0,0.684C-0.552,0.684,-1,0.378,-1,0Z","size":23104,"filled":false,"color":"#000","strokeWidth":1.5,"opacity":1}},
{"data":{"values":[{"t":146,"a":-585},{"t":5282,"a":-484}]},
"mark":{"type":"point","shape":"M0,0L-0.34,1L0.34,1Z","size":4356,"filled":true,"color":"#000","strokeWidth":0,"opacity":1}},
{"data":{"values":[{"t":2679,"a":-474}]},
"mark":{"type":"point","shape":"M0,0L-0.34,1L0.34,1Z","size":4356,"filled":true,"color":"#000","strokeWidth":0,"opacity":1,"angle":24.8}},
{"data":{"values":[{"t":5096,"a":2034}]},
"mark":{"type":"point","shape":"M0,0L-0.34,1L0.34,1Z","size":4356,"filled":true,"color":"#000","strokeWidth":0,"opacity":1,"angle":31.8}},
{"data":{"values":[{"t":4998,"a":4995}]},
"mark":{"type":"point","shape":"M0,0L-0.34,1L0.34,1Z","size":4356,"filled":true,"color":"#000","strokeWidth":0,"opacity":1,"angle":86.2}},
{"data":{"values":[{"t":2464,"a":2514}]},
"mark":{"type":"point","shape":"M0,0L-0.34,1L0.34,1Z","size":4356,"filled":true,"color":"#000","strokeWidth":0,"opacity":1,"angle":122.7}},
{"data":{"values":[{"t":297,"a":4939,"s":"trapped"},{"t":297,"a":4441,"s":"electrons"},{"t":297,"a":3971,"s":"created during"},{"t":297,"a":3464,"s":"1"},{"t":510,"a":3464,"s":"train passage"},{"t":0,"a":-2669,"s":"1"},{"t":224,"a":-2669,"s":"train"},{"t":0,"a":-3149,"s":"passage"},{"t":1824,"a":-2918,"s":"2"},{"t":2060,"a":-2918,"s":"train"},{"t":1824,"a":-3379,"s":"passage"},{"t":2847,"a":-2937,"s":"trapped electrons created"},{"t":2847,"a":-3407,"s":"during 2"},{"t":3629,"a":-3407,"s":"train passage"},{"t":5162,"a":-3029,"s":"3"},{"t":5395,"a":-3029,"s":"train"},{"t":5162,"a":-3490,"s":"passage"}]},
"mark":{"type":"text","align":"left","baseline":"alphabetic","font":"Liberation Sans","fontSize":47,"color":"#000"},
"encoding":{"text":{"field":"s"}}},
{"data":{"values":[{"t":393,"a":3676,"s":"st"},{"t":95,"a":-2476,"s":"st"},{"t":1922,"a":-2752,"s":"nd"},{"t":3476,"a":-3287,"s":"nd"},{"t":5264,"a":-2854,"s":"rd"}]},
"mark":{"type":"text","align":"left","baseline":"alphabetic","font":"Liberation Sans","fontSize":28,"color":"#000"},
"encoding":{"text":{"field":"s"}}},
{"data":{"values":[{"t":1110,"a":5151,"s":"4.01 mA/bunch"}]},
"mark":{"type":"text","align":"left","baseline":"alphabetic","font":"Liberation Sans","fontSize":69,"fontWeight":"bold","color":"#000"},
"encoding":{"text":{"field":"s"}}},
{"data":{"values":[{"t":2763,"a":6267,"s":"Macroparticle Age vs Time"}]},
"mark":{"type":"text","align":"center","baseline":"alphabetic","font":"Liberation Serif","fontSize":64,"fontStyle":"italic","fontWeight":"bold","color":"#000"},
"encoding":{"text":{"field":"s"}}}
]}
